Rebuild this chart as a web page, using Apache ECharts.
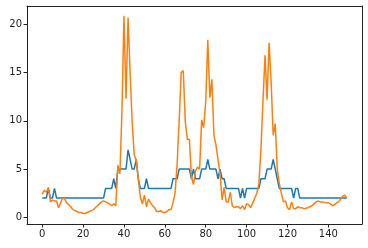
<!DOCTYPE html>
<html><head><meta charset="utf-8">
<script src="https://cdn.jsdelivr.net/npm/echarts@6/dist/echarts.min.js"></script>
<style>html,body{margin:0;padding:0;background:#fff}#c{width:368px;height:248px}</style>
</head><body><div id="c"></div>
<script>
var xTicks = [0, 20, 40, 60, 80, 100, 120, 140];
var yTicks = [0, 5, 10, 15, 20];
var blue = [
2,2,2,3,2,2,3,2,2,2, 2,2,2,2,2,2,2,2,2,2, 2,2,2,2,2,2,2,2,2,2,
2,3,3,3,3,4,3,5,5,5, 5,5,7,6,5,5,6,4,3,3, 3,4,3,3,3,3,3,3,3,3,
3,3,3,3,4,4,4,5,5,5, 5,5,5,4,5,4,4,4,5,5, 5,6,5,5,5,5,4,5,4,4,
3,3,3,3,3,3,3,2,3,2, 3,3,3,3,3,3,3,4,4,4, 5,5,5,6,5,4,3,3,3,3,
3,3,3,2,3,3,2,2,2,2, 2,2,2,2,2,2,2,2,2,2, 2,2,2,2,2,2,2,2,2,2
];
var orange = [
2.4,2.8,2.6,3.1,1.6,1.8,1.7,1.7,1.0,1.5, 2.0,1.9,1.5,1.3,1.1,0.8,0.7,0.6,0.5,0.5,
0.4,0.4,0.5,0.6,0.7,0.8,1.0,1.2,1.4,1.6, 1.7,1.6,1.5,1.4,1.2,1.4,1.2,5.4,4.5,11.0,
20.9,12.3,20.7,15.0,9.9,6.5,5.9,4.0,2.1,1.4, 2.3,1.1,1.9,1.5,1.2,1.0,0.6,0.6,0.7,0.5,
0.5,0.6,0.8,0.8,1.5,2.5,5.5,10.0,15.0,15.2, 9.9,8.1,8.1,4.2,3.4,4.8,5.2,5.0,10.1,9.3,
12.0,18.4,12.4,14.3,8.5,7.5,6.0,4.5,1.8,3.1, 1.6,1.6,2.6,1.2,1.0,1.1,1.1,0.9,1.2,0.8,
1.4,1.3,1.0,1.5,2.0,2.5,3.5,7.0,12.0,16.8, 12.2,18.1,14.0,8.5,9.7,5.0,3.5,2.5,1.6,1.7,
1.0,0.8,1.6,0.9,0.9,1.1,1.0,1.0,0.9,0.95, 1.0,1.1,1.2,1.4,1.6,1.7,1.6,1.6,1.55,1.5,
1.5,1.4,1.2,1.3,1.5,1.6,1.9,2.2,2.3,2.0
];
function pairs(a){return a.map(function(v,i){return [i,v];});}
var chart = echarts.init(document.getElementById('c'), null, {renderer:'canvas'});
var lbl = {color:'#222', fontSize:10, fontFamily:'DejaVu Sans'};
var XMIN=-7.45, XMAX=156.45, YMIN=-0.69, YMAX=21.9;
var frameLine = {show:true, onZero:false, lineStyle:{color:'#222', width:1}};
chart.setOption({
  animation:false,
  grid:{left:27, right:6, top:6, bottom:24},
  xAxis:[
    {type:'value', min:XMIN, max:XMAX, position:'bottom',
     axisLine:frameLine,
     axisTick:{show:true, length:3.5, inside:false, customValues:xTicks, lineStyle:{color:'#222'}},
     axisLabel:Object.assign({customValues:xTicks, margin:5}, lbl),
     splitLine:{show:false}},
    {type:'value', min:XMIN, max:XMAX, position:'top',
     axisLine:frameLine, axisTick:{show:false}, axisLabel:{show:false}, splitLine:{show:false}}
  ],
  yAxis:[
    {type:'value', min:YMIN, max:YMAX, position:'left',
     axisLine:frameLine,
     axisTick:{show:true, length:3.5, inside:false, customValues:yTicks, lineStyle:{color:'#222'}},
     axisLabel:Object.assign({customValues:yTicks, margin:5}, lbl),
     splitLine:{show:false}},
    {type:'value', min:YMIN, max:YMAX, position:'right',
     axisLine:frameLine, axisTick:{show:false}, axisLabel:{show:false}, splitLine:{show:false}}
  ],
  series:[
    {type:'line', data:pairs(blue), showSymbol:false, symbol:'none', lineStyle:{color:'#1f77b4', width:1.5}, itemStyle:{color:'#1f77b4'}},
    {type:'line', data:pairs(orange), showSymbol:false, symbol:'none', lineStyle:{color:'#ff7f0e', width:1.5}, itemStyle:{color:'#ff7f0e'}}
  ]
});
</script></body></html>
